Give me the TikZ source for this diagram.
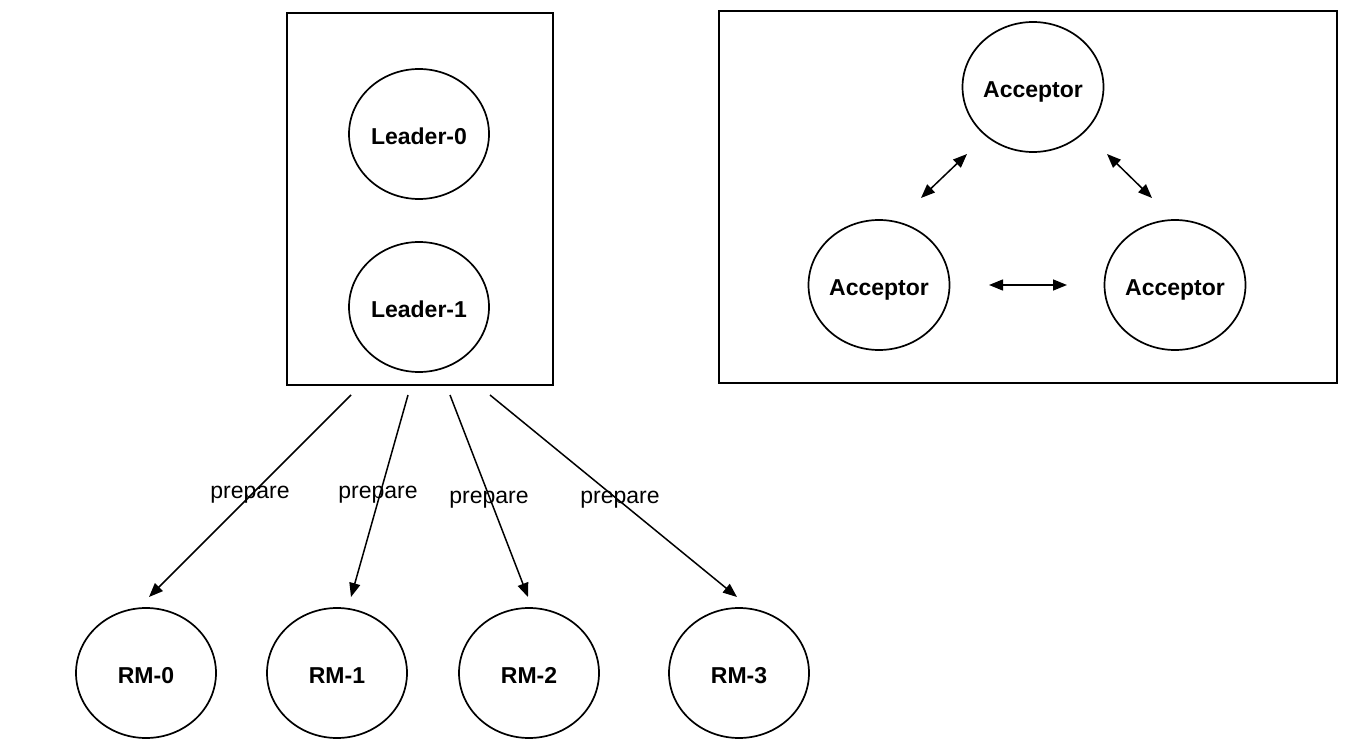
\documentclass[tikz,border=0pt]{standalone}
\usepackage{fontspec}
\setmainfont{Liberation Sans}
\usetikzlibrary{arrows.meta,shapes.geometric}
\begin{document}
\begin{tikzpicture}[x=1pt,y=-1pt,
  proc/.style={draw,line width=1.7pt,ellipse,minimum width=140pt,minimum height=130pt,inner sep=0pt,text height=20.5pt,text depth=0pt,font=\fontsize{23}{27}\selectfont\bfseries},
  frame/.style={draw,line width=1.7pt},
  msg/.style={line width=1.5pt,-{Triangle[length=14pt,width=11pt]}},
  bimsg/.style={line width=1.5pt,{Triangle[length=14pt,width=11pt]}-{Triangle[length=14pt,width=11pt]}},
  lbl/.style={font=\fontsize{23}{27}\selectfont,inner sep=0pt}]
\useasboundingbox (0,0) rectangle (1360,754);
% frames
\draw[frame] (287,13) rectangle (553,385);
\draw[frame] (719,11) rectangle (1337,383);
% leaders
\node[proc] (l0) at (419,134) {Leader-0};
\node[proc] (l1) at (419,307) {Leader-1};
% acceptors
\node[proc] (at) at (1033,87) {Acceptor};
\node[proc] (al) at (879,285) {Acceptor};
\node[proc] (ar) at (1175,285) {Acceptor};
% RMs
\node[proc] (r0) at (146,673) {RM-0};
\node[proc] (r1) at (337,673) {RM-1};
\node[proc] (r2) at (529,673) {RM-2};
\node[proc] (r3) at (739,673) {RM-3};
% arrow endpoints
\coordinate (s0) at (351,395); \coordinate (e0) at (149,597);
\coordinate (s1) at (408,395); \coordinate (e1) at (351,597);
\coordinate (s2) at (450,395); \coordinate (e2) at (528,597);
\coordinate (s3) at (490,395); \coordinate (e3) at (737,597);
\draw[msg] (s0) -- (e0);
\draw[msg] (s1) -- (e1);
\draw[msg] (s2) -- (e2);
\draw[msg] (s3) -- (e3);
\node[lbl] (p0) at (250,495) {prepare};
\node[lbl] (p1) at (378,495) {prepare};
\node[lbl] (p2) at (489,500) {prepare};
\node[lbl] (p3) at (620,500) {prepare};
% acceptor links
\coordinate (a1) at (921,198); \coordinate (a2) at (967,154);
\coordinate (b1) at (1107,154); \coordinate (b2) at (1152,198);
\coordinate (c1) at (989,285); \coordinate (c2) at (1067,285);
\draw[bimsg] (a1) -- (a2);
\draw[bimsg] (b1) -- (b2);
\draw[bimsg] (c1) -- (c2);
\end{tikzpicture}
\end{document}
